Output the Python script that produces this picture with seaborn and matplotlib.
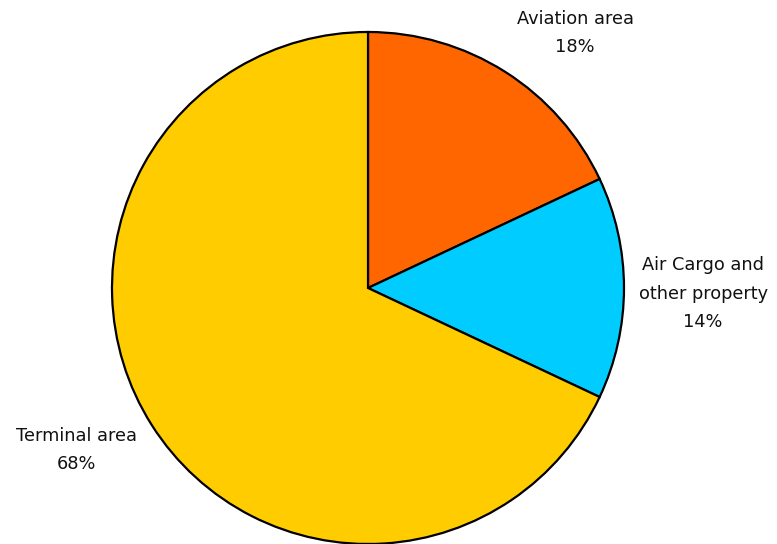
import matplotlib
matplotlib.use("Agg")
import matplotlib.pyplot as plt
import seaborn as sns

# Revenue share by business segment
segments = ["Aviation area", "Air Cargo and\nother property", "Terminal area"]
shares = [18, 14, 68]
colors = ["#FF6600", "#00CCFF", "#FFCC00"]

# Label anchor points (data units, pie radius = 1)
label_x = [0.809, 1.309, -1.137]
label_y = [0.996, -0.023, -0.633]

sns.set_theme(style="white")
plt.rcParams["font.family"] = ["DejaVu Sans"]

fig = plt.figure(figsize=(7.77, 5.44), dpi=100)
ax = fig.add_axes([112 / 777, 0.0, 512 / 777, 512 / 544])

wedges, _ = ax.pie(
    shares,
    colors=colors,
    startangle=90,
    counterclock=False,
    radius=1.0,
    wedgeprops=dict(edgecolor="black", linewidth=1.6),
)
for w in wedges:
    w.set_clip_on(False)

for name, val, x, y in zip(segments, shares, label_x, label_y):
    ax.text(x, y, f"{name}\n{val}%", ha="center", va="center",
            fontsize=12.8, color="#111111", linespacing=1.75, clip_on=False)

ax.set_xlim(-1, 1)
ax.set_ylim(-1, 1)
ax.set_aspect("equal")
ax.axis("off")

fig.savefig("out.png", dpi=100)
